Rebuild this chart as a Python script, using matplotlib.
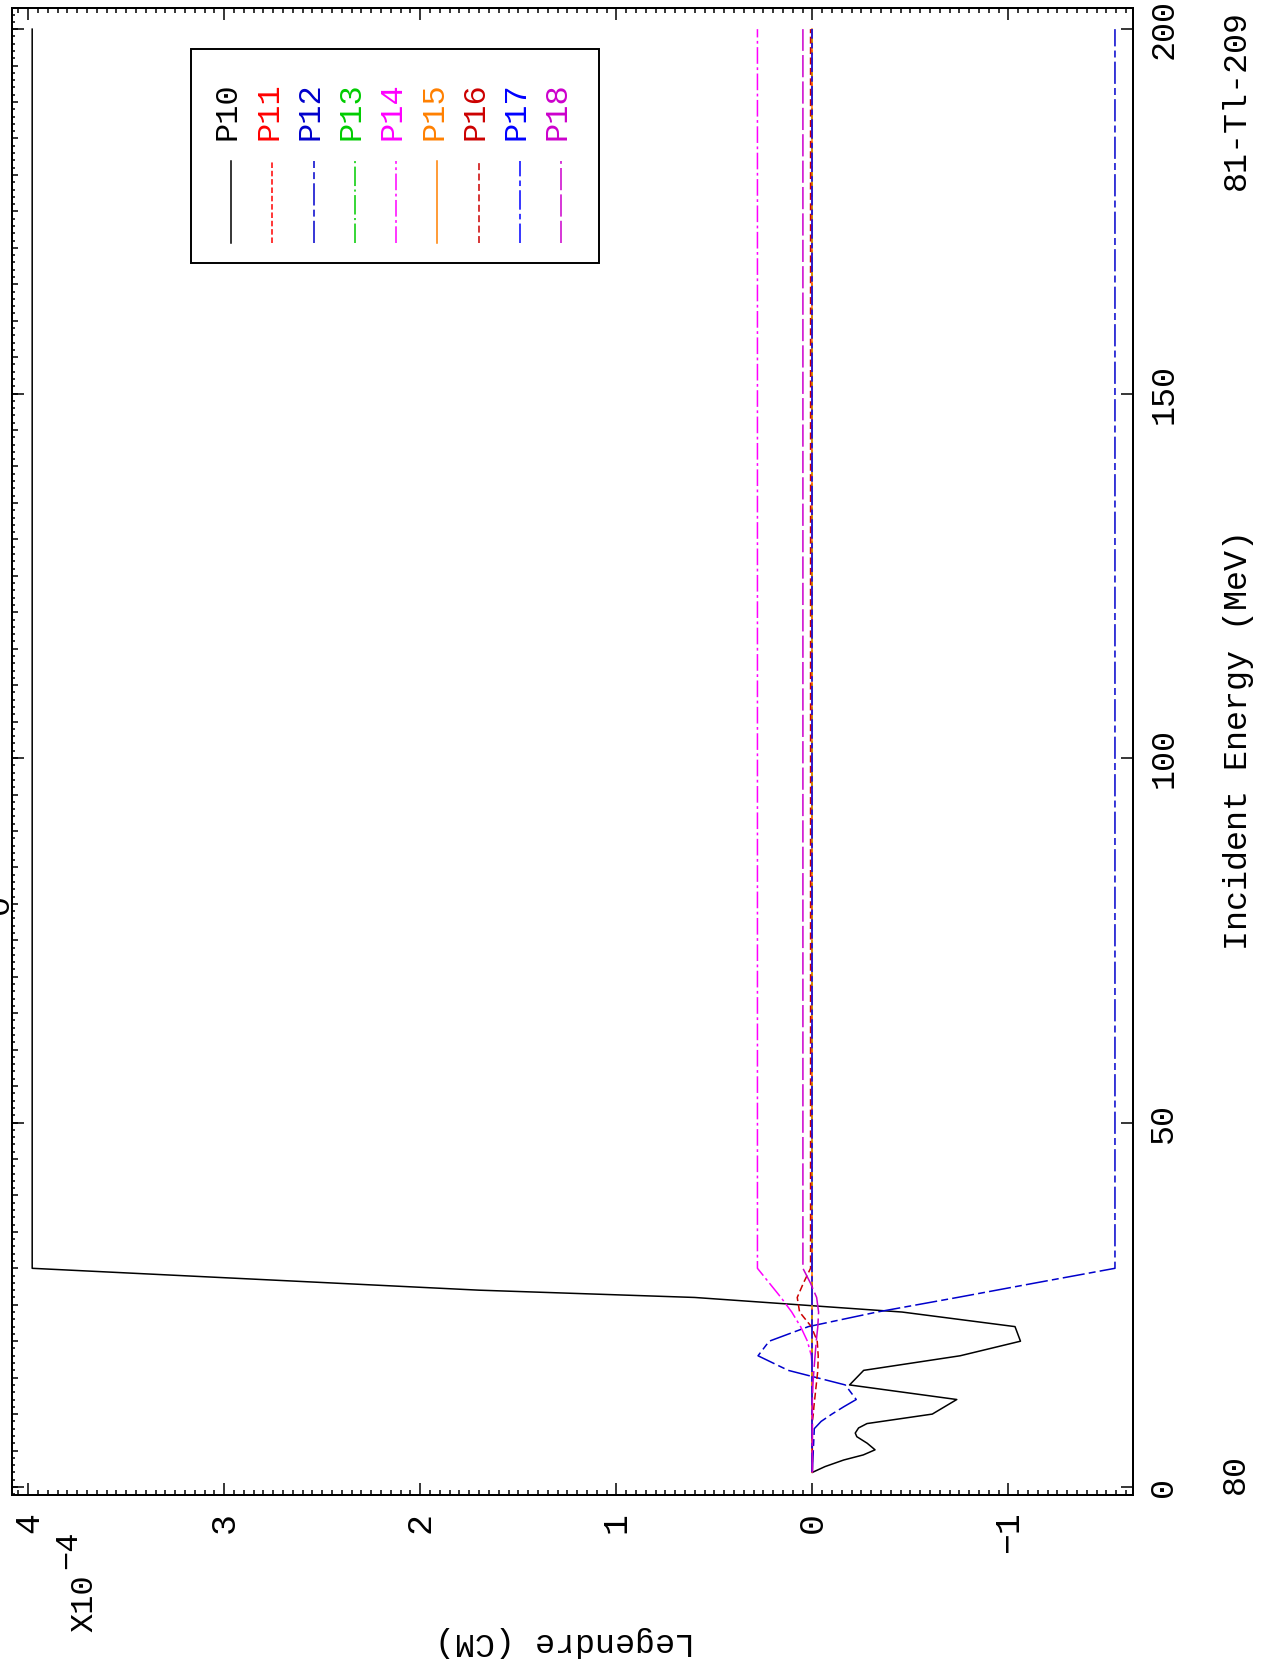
import matplotlib
matplotlib.use('Agg')
import matplotlib.pyplot as plt
from matplotlib.ticker import MultipleLocator, FixedLocator, FixedFormatter, NullFormatter
from matplotlib.lines import Line2D
from matplotlib.patches import Rectangle

plt.rcParams['font.family'] = ['Liberation Mono', 'DejaVu Sans']
plt.rcParams['lines.scale_dashes'] = False

# Legendre coefficients (units of 1e-4) vs incident energy (MeV)
e_p10 = [2, 2.8, 3.7, 4.4, 5.1, 6.0, 6.9, 7.4, 8.1, 8.7, 10, 12, 14, 16, 18, 20, 22, 24, 26, 27, 30, 200]
p10 = [0, -0.065, -0.16, -0.26, -0.32, -0.28, -0.227, -0.219, -0.236, -0.279, -0.612, -0.737,
       -0.19, -0.262, -0.754, -1.062, -1.034, -0.458, 0.6, 1.7, 3.98, 3.98]

energy = [2, 8, 9, 10, 11, 12, 14, 16, 18, 20, 22, 24, 26, 28, 30, 200]
p11 = [0] * 16
p12 = [0, -0.01, -0.045, -0.1, -0.16, -0.224, -0.168, 0.123, 0.277, 0.22, 0.02, -0.33, -0.74, -1.14, -1.544, -1.544]
p13 = [0] * 16
p14 = [0, 0, 0, 0, 0, 0, 0, 0, 0.005, 0.025, 0.06, 0.105, 0.16, 0.22, 0.28, 0.28]
p15 = [0] * 16
p16 = [0, 0, 0, -0.005, -0.008, -0.012, -0.02, -0.028, -0.03, -0.025, 0.005, 0.065, 0.077, 0.045, 0.009, 0.009]
p17 = [0] * 16
p18 = [0, 0, 0, 0, 0, 0, -0.003, -0.008, -0.014, -0.02, -0.028, -0.032, -0.022, 0.01, 0.048, 0.048]

names = ['P10', 'P11', 'P12', 'P13', 'P14', 'P15', 'P16', 'P17', 'P18']
series = [(e_p10, p10), (energy, p11), (energy, p12), (energy, p13), (energy, p14),
          (energy, p15), (energy, p16), (energy, p17), (energy, p18)]
colors = ['black', '#FF0000', '#0000CC', '#00CC00', '#FF00FF', '#FF8000', '#CC0000', '#0000FF', '#CC00CC']
dashes = ['-', (0, (4, 2)), (0, (16, 3, 5, 3)), (0, (14, 2.5, 1.5, 2.5)), (0, (12, 2.5, 2, 2.5)),
          '-', (0, (5, 2.5)), (0, (14, 3, 4, 3)), (0, (16, 3))]

xticks_legendre = [-1, 0, 1, 2, 3, 4]
xlabels_legendre = ['\u22121', '0', '1', '2', '3', '4']
yticks_energy = [0, 50, 100, 150, 200]

W, H = 1263, 1673
fig = plt.figure(figsize=(W / 100, H / 100), dpi=100)

# page is drawn rotated: energy runs up the page, Legendre value runs right-to-left
ax = fig.add_axes([12 / W, 1 - 1495 / H, 1121 / W, 1487 / H])
for (e, p), c, ls in zip(series, colors, dashes):
    ax.plot(p, e, color=c, linestyle=ls, lw=1.1)

ax.set_xlim(4.083, -1.636)
ax.set_ylim(-1.1, 202.9)
for s in ax.spines.values():
    s.set_linewidth(1.4)

ax.xaxis.set_major_locator(FixedLocator(xticks_legendre))
ax.xaxis.set_major_formatter(FixedFormatter(xlabels_legendre))
ax.xaxis.set_minor_locator(MultipleLocator(0.05))
ax.tick_params(axis='x', which='major', direction='in', top=True, bottom=True,
               length=8.6, width=1.1, labelsize=25, labelrotation=90, pad=12)
ax.tick_params(axis='x', which='minor', direction='in', top=True, bottom=True, length=3.6, width=1.1)

ax.yaxis.set_major_locator(MultipleLocator(5))
ax.yaxis.set_minor_locator(MultipleLocator(1))
ax.yaxis.set_major_formatter(NullFormatter())
ax.tick_params(axis='y', which='major', direction='in', left=True, right=True, length=4.3, width=1.1)
ax.tick_params(axis='y', which='minor', direction='in', left=True, right=True, length=2.5, width=1.1)

ax2 = ax.twinx()
ax2.set_ylim(ax.get_ylim())
ax2.set_yticks(yticks_energy)
ax2.tick_params(axis='y', which='major', direction='in', left=True, right=True, labelleft=False,
                labelright=True, length=8.6, width=1.1, labelsize=24, labelrotation=90, pad=11)
for lbl in ax2.get_yticklabels():
    lbl.set_va('center')
for s in ax2.spines.values():
    s.set_linewidth(1.4)

# legend box, drawn by hand so that it reads rotated like the rest
ax.add_patch(Rectangle((0.1597, 0.8285), 0.3639, 0.1439, transform=ax.transAxes,
                       fc='white', ec='black', lw=1.4, zorder=5))
for i, (n, c, ls) in enumerate(zip(names, colors, dashes)):
    xc = (219 + 41.25 * i) / 1121
    ax.add_line(Line2D([xc, xc], [0.842, 0.8971], color=c, linestyle=ls, lw=1.1,
                       transform=ax.transAxes, zorder=6))
    ax.text(xc - 3 / 1121, 0.9307, n, color=c, rotation=90, ha='center', va='center',
            fontsize=23, transform=ax.transAxes, zorder=6)

fig.text(1238 / W, 1 - 740 / H, 'Incident Energy (MeV)', rotation=90, ha='center', va='center', fontsize=24)
fig.text(565 / W, 1 - 1642 / H, 'Legendre (CM)', rotation=180, ha='center', va='center', fontsize=24)
fig.text(84 / W, 1 - 1603 / H, 'X10', rotation=90, ha='center', va='center', fontsize=23)
fig.text(68 / W, 1 - 1550 / H, '\u22124', rotation=90, ha='center', va='center', fontsize=23)
fig.text(1236 / W, 1 - 100 / H, '81-Tl-209', rotation=90, ha='center', va='center', fontsize=24)
fig.text(1235 / W, 1 - 1474 / H, '80', rotation=90, ha='center', va='center', fontsize=24)
# title glyph that the reference shows clipped at the left page edge
fig.text(15 / W, 1 - 904 / H, '0', rotation=90, ha='right', va='center', fontsize=24)

fig.savefig('out.png', dpi=100)
